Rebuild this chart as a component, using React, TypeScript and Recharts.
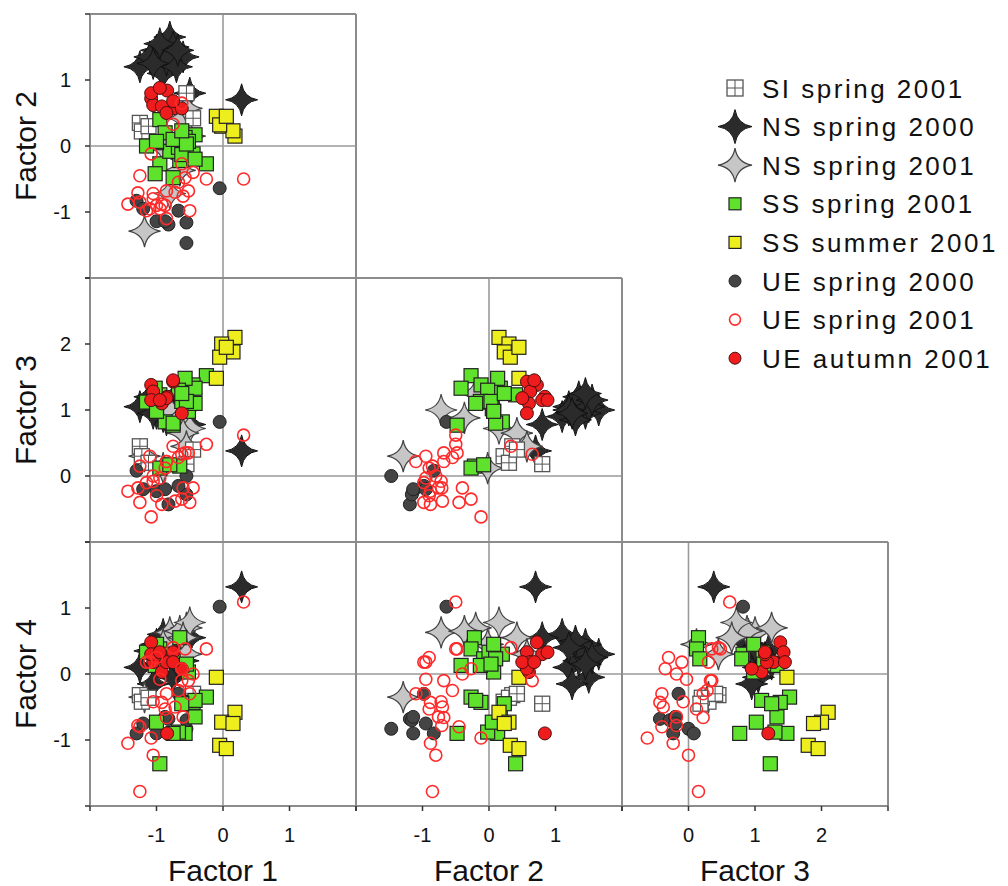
import React from 'react';
import { ScatterChart, Scatter, XAxis, YAxis, ReferenceLine } from 'recharts';

// factor scores per sample: [Factor 1, Factor 2, Factor 3, Factor 4]
type Pt = [number, number, number, number];

const FACTOR_NAMES = ['Factor 1', 'Factor 2', 'Factor 3', 'Factor 4'];
const FACTOR_DOMAINS: [number, number][] = [[-2, 2], [-2, 2], [-1, 3], [-2, 2]];
const FACTOR_TICKS = [[-2, -1, 0, 1, 2], [-2, -1, 0, 1, 2], [-1, 0, 1, 2, 3], [-2, -1, 0, 1, 2]];
const FACTOR_LABELS = [[-1, 0, 1], [-1, 0, 1], [0, 1, 2], [-1, 0, 1]];

const siSpring2001: Pt[] = [
  [-1.25, 0.35, 0.45, -0.32],
  [-1.22, 0.22, 0.3, -0.42],
  [-1.12, 0.3, 0.2, -0.36],
  [-0.45, 0.42, 0.4, -0.3],
  [-0.55, 0.8, 0.18, -0.45],
];

const nsSpring2000: Pt[] = [
  [-1.25, 1.2, 1.05, 0.1],
  [-0.8, 1.65, 1.0, 0.3],
  [-1.0, 1.45, 0.95, 0.45],
  [-0.6, 1.35, 1.0, 0.2],
  [-0.9, 1.1, 0.9, 0.6],
  [-1.1, 1.35, 1.2, 0.35],
  [-0.75, 1.5, 1.05, -0.05],
  [-0.85, 1.3, 0.85, 0.5],
  [-0.95, 1.55, 1.15, 0.25],
  [-0.7, 1.2, 1.0, 0.4],
  [-1.05, 1.25, 0.95, -0.15],
  [-0.68, 1.45, 1.25, 0.15],
  [-0.5, 0.8, 0.78, 0.55],
  [0.28, 0.7, 0.38, 1.32],
];

const nsSpring2001: Pt[] = [
  [-1.18, -1.29, 0.3, -0.35],
  [-0.8, -0.72, 1.0, 0.63],
  [-0.55, -0.2, 1.25, 0.7],
  [-0.65, -0.37, 0.88, 0.65],
  [-0.5, 0.15, 0.72, 0.78],
  [-0.6, 0.42, 0.65, 0.55],
  [-0.9, -0.02, 0.12, 0.45],
  [-0.55, 0.57, 0.45, 0.3],
];

const ssSpring2001: Pt[] = [
  [-0.95, 0.4, 1.23, -1.36],
  [-0.65, -0.22, 0.15, 0.55],
  [-0.95, -0.27, 0.12, 0.38],
  [-0.8, -0.08, 0.17, 0.23],
  [-0.25, -0.27, 1.52, -0.35],
  [-0.45, -0.12, 1.38, -0.43],
  [-0.42, 0.17, 1.33, -0.65],
  [-0.57, 0.13, 1.48, -0.9],
  [-0.67, -0.02, 1.3, -0.88],
  [-0.75, -0.48, 0.77, -0.9],
  [-1.0, 0.05, 1.02, -0.73],
  [-0.52, 0.07, 0.98, 0.03],
  [-1.15, 0.0, 1.12, 0.33],
  [-0.87, 0.2, 0.82, 0.3],
  [-0.75, 0.1, 0.8, 0.23],
  [-0.62, -0.13, 1.13, 0.13],
  [-1.02, -0.42, 1.33, 0.13],
  [-0.42, -0.2, 1.1, -0.4],
  [-0.55, 0.03, 1.13, 0.15],
  [-1.0, 0.07, 0.98, 0.45],
  [-0.62, 0.23, 1.25, -0.45],
];

const ssSummer2001: Pt[] = [
  [-0.1, 0.45, 1.48, -0.05],
  [0.18, 0.15, 2.1, -0.58],
  [-0.02, 0.3, 2.0, -0.73],
  [0.15, 0.23, 1.88, -0.75],
  [-0.05, 0.32, 1.8, -1.08],
  [0.05, 0.45, 1.95, -1.13],
];

const ueSpring2000: Pt[] = [
  [-0.05, -0.64, 0.82, 1.02],
  [-0.55, -1.47, 0.0, -0.83],
  [-0.82, -1.19, -0.43, -0.68],
  [-1.0, -1.14, -0.23, -0.9],
  [-1.3, -0.83, 0.08, -0.9],
  [-0.55, -1.16, -0.28, -0.7],
  [-0.67, -0.98, -0.15, -0.3],
  [-0.87, -1.14, -0.2, -0.65],
  [-1.2, -0.95, -0.2, -0.75],
];

const ueSpring2001: Pt[] = [
  [-1.25, -0.85, 0.15, -1.78],
  [0.31, -0.5, 0.62, 1.09],
  [-1.05, -0.8, 0.0, -1.23],
  [-1.43, -0.88, -0.23, -1.05],
  [-1.08, -0.12, -0.62, -0.97],
  [-1.25, -0.45, -0.4, -0.8],
  [-0.85, -0.68, 0.22, -0.66],
  [-0.87, -0.9, 0.12, -0.53],
  [-1.05, -0.72, -0.08, -0.42],
  [-0.85, -1.1, 0.22, -0.3],
  [-0.67, -0.55, 0.28, -0.25],
  [-0.52, -0.68, 0.35, -0.1],
  [-0.95, -0.95, -0.03, -0.08],
  [-0.75, 0.33, 0.45, 0.4],
  [-0.62, 0.65, 0.33, -0.1],
  [-0.62, -0.27, -0.35, 0.08],
  [-1.15, -0.98, -0.1, 0.18],
  [-1.0, -0.9, -0.3, 0.25],
  [-0.25, -0.5, 0.48, 0.38],
  [-0.57, -0.48, 0.35, 0.38],
  [-1.1, -0.95, 0.3, 0.18],
  [-0.6, -0.76, -0.18, -0.65],
  [-0.5, -0.98, -0.4, -0.3],
  [-1.28, -0.71, -0.18, -0.78],
  [-0.92, -0.88, -0.43, -0.43],
  [-0.72, -0.7, -0.38, -0.5],
  [-0.45, -0.4, -0.18, 0.0],
];

const ueAutumn2001: Pt[] = [
  [-0.84, 0.84, 1.2, -0.9],
  [-1.08, 0.72, 1.38, 0.48],
  [-0.75, 0.57, 1.43, 0.33],
  [-1.05, 0.62, 1.28, 0.18],
  [-0.92, 0.6, 1.1, 0.03],
  [-0.62, 0.57, 0.95, 0.08],
  [-0.85, 0.5, 1.18, 0.18],
  [-1.08, 0.8, 1.15, 0.3],
  [-0.75, 0.68, 1.45, 0.18],
  [-0.95, 0.88, 1.15, 0.33],
];

const FONT = '"Liberation Sans", Arial, Helvetica, sans-serif';
const FRAME = '#8c8c8c';
const TICK = '#333';

// four-pointed star with concave sides
function starPath(cx: number, cy: number, r: number) {
  const c = r * 0.14;
  return (
    `M${cx},${cy - r} Q${cx + c},${cy - c} ${cx + r},${cy} ` +
    `Q${cx + c},${cy + c} ${cx},${cy + r} Q${cx - c},${cy + c} ${cx - r},${cy} ` +
    `Q${cx - c},${cy - c} ${cx},${cy - r}Z`
  );
}

type Marker = (cx: number, cy: number, big?: boolean) => React.ReactElement;

const gridSquare: Marker = (cx, cy, big) => {
  const h = big ? 8 : 7.5;
  return (
    <g>
      <rect x={cx - h} y={cy - h} width={h * 2} height={h * 2} fill="#fff" stroke="#555" strokeWidth={1.3} />
      <line x1={cx - h} x2={cx + h} y1={cy} y2={cy} stroke="#555" strokeWidth={1} />
      <line x1={cx} x2={cx} y1={cy - h} y2={cy + h} stroke="#555" strokeWidth={1} />
    </g>
  );
};
const darkStar: Marker = (cx, cy, big) => (
  <path d={starPath(cx, cy, big ? 17 : 16)} fill="#2b2b2b" stroke="#111" strokeWidth={1} />
);
const lightStar: Marker = (cx, cy, big) => (
  <path d={starPath(cx, cy, big ? 17 : 16)} fill="#c6c6c6" stroke="#444" strokeWidth={1.2} />
);
const greenSquare: Marker = (cx, cy, big) => {
  const h = big ? 6 : 7;
  return <rect x={cx - h} y={cy - h} width={h * 2} height={h * 2} fill="#5fe22c" stroke="#222" strokeWidth={1.2} />;
};
const yellowSquare: Marker = (cx, cy, big) => {
  const h = big ? 6 : 7;
  return <rect x={cx - h} y={cy - h} width={h * 2} height={h * 2} fill="#eeee1e" stroke="#222" strokeWidth={1.2} />;
};
const darkDot: Marker = (cx, cy, big) => (
  <circle cx={cx} cy={cy} r={big ? 6 : 6.5} fill="#444" stroke="#222" strokeWidth={1} />
);
const openRing: Marker = (cx, cy, big) => (
  <circle cx={cx} cy={cy} r={big ? 5.5 : 6} fill="none" stroke="#ff2b2b" strokeWidth={1.6} />
);
const redDot: Marker = (cx, cy, big) => (
  <circle cx={cx} cy={cy} r={big ? 6 : 6.5} fill="#ee1c1c" stroke="#4a1010" strokeWidth={1} />
);

interface Group {
  name: string;
  data: Pt[];
  marker: Marker;
}

const LEGEND: Group[] = [
  { name: 'SI spring 2001', data: siSpring2001, marker: gridSquare },
  { name: 'NS spring 2000', data: nsSpring2000, marker: darkStar },
  { name: 'NS spring 2001', data: nsSpring2001, marker: lightStar },
  { name: 'SS spring 2001', data: ssSpring2001, marker: greenSquare },
  { name: 'SS summer 2001', data: ssSummer2001, marker: yellowSquare },
  { name: 'UE spring 2000', data: ueSpring2000, marker: darkDot },
  { name: 'UE spring 2001', data: ueSpring2001, marker: openRing },
  { name: 'UE autumn 2001', data: ueAutumn2001, marker: redDot },
];

// stacking order inside the panels (first drawn = bottom)
const DRAW_ORDER = [1, 2, 0, 5, 3, 4, 7, 6].map((i) => LEGEND[i]);

const COL_X = [90, 356, 622];
const ROW_Y = [14, 278, 542];
const CELL_W = 266;
const CELL_H = 264;
const PAD_L = 40;
const PAD_B = 50;

const PANELS = [
  { xi: 0, yi: 1, col: 0, row: 0 },
  { xi: 0, yi: 2, col: 0, row: 1 },
  { xi: 1, yi: 2, col: 1, row: 1 },
  { xi: 0, yi: 3, col: 0, row: 2 },
  { xi: 1, yi: 3, col: 1, row: 2 },
  { xi: 2, yi: 3, col: 2, row: 2 },
];

const Panel = ({ xi, yi, col, row }: { xi: number; yi: number; col: number; row: number }) => {
  const isLeft = col === 0;
  const isBottom = row === 2;
  const frame = { stroke: FRAME, strokeWidth: 2 };
  const tickLine = { stroke: TICK, strokeWidth: 1.5 };
  const tickStyle = { fill: '#111', fontSize: 20, fontFamily: FONT };
  return (
    <div style={{ position: 'absolute', left: COL_X[col] - PAD_L, top: ROW_Y[row] - 5 }}>
      <ScatterChart
        width={PAD_L + CELL_W + 5}
        height={5 + CELL_H + PAD_B}
        margin={{ top: 5, right: 5, bottom: 0, left: 0 }}
      >
        <XAxis
          xAxisId="b"
          type="number"
          dataKey="x"
          domain={FACTOR_DOMAINS[xi]}
          ticks={FACTOR_TICKS[xi]}
          interval={0}
          allowDataOverflow
          height={PAD_B}
          axisLine={frame}
          tickLine={isBottom ? tickLine : false}
          tickSize={5}
          tickMargin={17}
          tick={isBottom ? tickStyle : false}
          tickFormatter={(v: number) => (FACTOR_LABELS[xi].includes(v) ? String(v) : '')}
        />
        <XAxis
          xAxisId="t"
          orientation="top"
          mirror
          type="number"
          domain={FACTOR_DOMAINS[xi]}
          ticks={FACTOR_TICKS[xi]}
          interval={0}
          allowDataOverflow
          axisLine={frame}
          tickLine={tickLine}
          tickSize={5}
          tick={false}
        />
        <YAxis
          yAxisId="l"
          type="number"
          dataKey="y"
          domain={FACTOR_DOMAINS[yi]}
          ticks={FACTOR_TICKS[yi]}
          interval={0}
          allowDataOverflow
          width={PAD_L}
          axisLine={frame}
          tickLine={isLeft ? tickLine : false}
          tickSize={5}
          tickMargin={14}
          tick={isLeft ? tickStyle : false}
          tickFormatter={(v: number) => (FACTOR_LABELS[yi].includes(v) ? String(v) : '')}
        />
        <YAxis
          yAxisId="r"
          orientation="right"
          mirror
          type="number"
          domain={FACTOR_DOMAINS[yi]}
          ticks={FACTOR_TICKS[yi]}
          interval={0}
          allowDataOverflow
          axisLine={frame}
          tickLine={tickLine}
          tickSize={5}
          tick={false}
        />
        <ReferenceLine xAxisId="b" yAxisId="l" x={0} stroke="#9a9a9a" strokeWidth={1.6} />
        <ReferenceLine xAxisId="b" yAxisId="l" y={0} stroke="#9a9a9a" strokeWidth={1.6} />
        {DRAW_ORDER.map((g) => (
          <Scatter
            key={g.name}
            name={g.name}
            xAxisId="b"
            yAxisId="l"
            data={g.data.map((p) => ({ x: p[xi], y: p[yi] }))}
            isAnimationActive={false}
            shape={(p: any) => g.marker(p.cx, p.cy)}
          />
        ))}
      </ScatterChart>
    </div>
  );
};

const LEGEND_X = 735;
const LEGEND_Y0 = 88;
const LEGEND_STEP = 38.6;

export default function App() {
  return (
    <div style={{ position: 'absolute', left: 0, top: 0, width: 1008, height: 886, background: '#fff', overflow: 'hidden' }}>
      {PANELS.map((p) => (
        <Panel key={`${p.xi}-${p.yi}`} {...p} />
      ))}
      <svg
        width={1008}
        height={886}
        style={{ position: 'absolute', left: 0, top: 0, pointerEvents: 'none' }}
        fontFamily={FONT}
      >
        {[0, 1, 2].map((c) => (
          <text key={`bx${c}`} x={COL_X[c] + CELL_W / 2} y={881} textAnchor="middle" fontSize={30} fill="#111">
            {FACTOR_NAMES[c]}
          </text>
        ))}
        {[0, 1, 2].map((r) => (
          <text
            key={`ly${r}`}
            transform={`translate(36,${ROW_Y[r] + CELL_H / 2}) rotate(-90)`}
            textAnchor="middle"
            fontSize={30}
            fill="#111"
          >
            {FACTOR_NAMES[r + 1]}
          </text>
        ))}
        {LEGEND.map((g, i) => {
          const cy = LEGEND_Y0 + i * LEGEND_STEP;
          return (
            <g key={g.name}>
              {g.marker(LEGEND_X, cy, true)}
              <text x={762} y={cy + 9.5} fontSize={26} letterSpacing={2.5} fill="#111">
                {g.name}
              </text>
            </g>
          );
        })}
      </svg>
    </div>
  );
}
